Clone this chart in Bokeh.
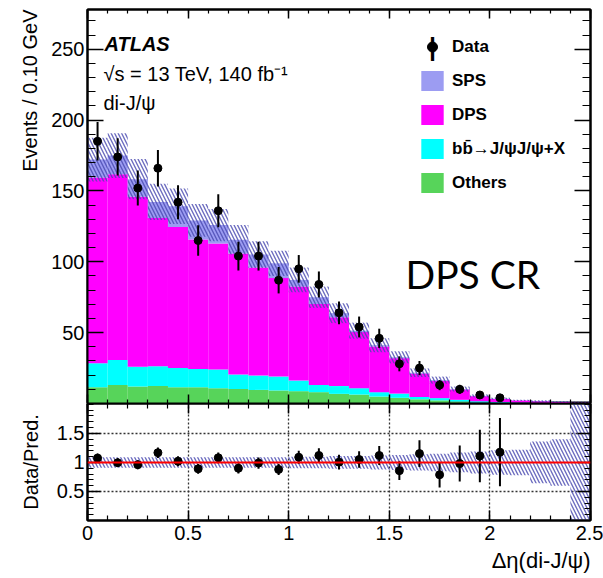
from bokeh.plotting import figure
from bokeh.models import (ColumnDataSource, Range1d, FixedTicker, LinearAxis, Label,
                          Legend, LegendItem, Title, Span, Grid)
from bokeh.layouts import column
from bokeh.embed import file_html
from bokeh.resources import INLINE

FONT = "Liberation Sans"

# ---------------- data ----------------
bin_low = [0.0, 0.1, 0.2, 0.3, 0.4, 0.5, 0.6, 0.7, 0.8, 0.9, 1.0, 1.1, 1.2,
           1.3, 1.4, 1.5, 1.6, 1.7, 1.8, 1.9, 2.0, 2.1, 2.2, 2.3, 2.4]
bin_high = [0.1, 0.2, 0.3, 0.4, 0.5, 0.6, 0.7, 0.8, 0.9, 1.0, 1.1, 1.2, 1.3,
            1.4, 1.5, 1.6, 1.7, 1.8, 1.9, 2.0, 2.1, 2.2, 2.3, 2.4, 2.5]
others = [11.5, 13.1, 12.0, 12.3, 11.5, 11.5, 10.8, 10.3, 9.6, 9.2, 8.7, 8.0, 6.8,
          6.3, 4.9, 4.0, 3.0, 2.2, 1.4, 0.6, 0.4, 0.3, 0.2, 0.1, 0.1]
bb = [16.9, 17.6, 14.0, 14.0, 13.6, 12.9, 13.2, 10.1, 10.1, 9.8, 7.5, 5.1, 5.5,
      4.5, 3.1, 3.0, 1.6, 1.6, 1.2, 1.0, 0.6, 0.4, 0.3, 0.2, 0.1]
dps = [131.0, 131.0, 119.8, 104.5, 99.5, 91.3, 88.9, 85.5, 76.3, 69.5, 66.3, 57.1, 48.5,
       39.6, 32.3, 25.0, 16.6, 12.3, 7.3, 3.6, 2.2, 1.4, 1.1, 0.8, 0.3]
sps = [12.7, 13.2, 12.5, 11.4, 14.6, 13.5, 13.0, 9.7, 9.1, 10.4, 4.7, 4.8, 2.9,
       1.0, 0.8, 0.6, 0.5, 0.4, 0.3, 0.2, 0.2, 0.1, 0.1, 0.1, 0.05]
rel_unc = [0.09, 0.09, 0.09, 0.09, 0.09, 0.09, 0.09, 0.09, 0.09, 0.09, 0.10, 0.10, 0.11,
           0.11, 0.12, 0.13, 0.14, 0.15, 0.17, 0.19, 0.21, 0.22, 0.36, 0.40, 1.5]
data_x = [0.05, 0.15, 0.25, 0.35, 0.45, 0.55, 0.65, 0.75, 0.85, 0.95, 1.05,
          1.15, 1.25, 1.35, 1.45, 1.55, 1.65, 1.75, 1.85, 1.95, 2.05]
data_counts = [185, 174, 152, 166, 142, 115, 136, 104, 104, 87, 95, 84, 64,
               54, 46, 28, 25, 13, 10, 6, 4]

x_ticks = [0, 0.5, 1, 1.5, 2, 2.5]
x_minor = [i / 10 for i in range(26)]
y_ticks_top = [50, 100, 150, 200, 250]
y_minor_top = [i * 10 for i in range(28)]
y_ticks_ratio = [0.5, 1, 1.5]
y_minor_ratio = [i / 10 for i in range(21)]

COL_SPS = "#9c9cf2"
COL_DPS = "#ff00ff"
COL_BB = "#00ffff"
COL_OTH = "#57d45a"
COL_HATCH = "#4848b0"

# ---------------- derived stacks ----------------
n = len(bin_low)
s1 = [others[i] for i in range(n)]
s2 = [s1[i] + bb[i] for i in range(n)]
s3 = [s2[i] + dps[i] for i in range(n)]
total = [s3[i] + sps[i] for i in range(n)]
band_lo = [max(0.0, total[i] * (1 - rel_unc[i])) for i in range(n)]
band_hi = [total[i] * (1 + rel_unc[i]) for i in range(n)]

src = ColumnDataSource(dict(left=bin_low, right=bin_high, zero=[0.0] * n,
                            s1=s1, s2=s2, s3=s3, total=total,
                            blo=band_lo, bhi=band_hi,
                            rlo=[1 - r for r in rel_unc], rhi=[1 + r for r in rel_unc]))

nd = len(data_counts)
err = [c ** 0.5 for c in data_counts]
ratio = [data_counts[i] / total[i] for i in range(nd)]
rerr = [err[i] / total[i] for i in range(nd)]
dsrc = ColumnDataSource(dict(x=data_x, y=data_counts,
                             ylo=[data_counts[i] - err[i] for i in range(nd)],
                             yhi=[data_counts[i] + err[i] for i in range(nd)],
                             r=ratio,
                             rlo=[ratio[i] - rerr[i] for i in range(nd)],
                             rhi=[ratio[i] + rerr[i] for i in range(nd)]))


def style_axis(ax, major_in, minor_in, labels=True):
    ax.axis_line_color = "black"
    ax.axis_line_width = 2
    ax.major_tick_in = major_in
    ax.major_tick_out = 0
    ax.minor_tick_in = minor_in
    ax.minor_tick_out = 0
    ax.major_tick_line_width = 1.5
    ax.minor_tick_line_width = 1.2
    ax.major_tick_line_color = "black"
    ax.minor_tick_line_color = "black"
    ax.major_label_text_font = FONT
    ax.major_label_text_font_size = "20px"
    ax.major_label_text_color = "black"
    ax.major_label_standoff = 3
    if not labels:
        ax.major_label_text_font_size = "1px"
        ax.major_label_text_color = None
        ax.major_label_standoff = 0


# ---------------- upper panel ----------------
p = figure(frame_width=503, frame_height=394, x_range=Range1d(0, 2.5), y_range=Range1d(0, 278),
           x_axis_location=None, y_axis_location=None, output_backend="svg",
           toolbar_location=None, min_border_left=87, min_border_right=13,
           min_border_top=9, min_border_bottom=0)
p.xgrid.visible = False
p.ygrid.visible = False
p.outline_line_color = "black"
p.outline_line_width = 2
p.background_fill_color = "white"
p.border_fill_color = "white"

xt = FixedTicker(ticks=x_ticks, minor_ticks=x_minor)
yt = FixedTicker(ticks=y_ticks_top, minor_ticks=y_minor_top)

ax_l = LinearAxis(ticker=yt)
style_axis(ax_l, 16, 8)
p.add_layout(ax_l, "left")
ax_r = LinearAxis(ticker=yt)
style_axis(ax_r, 16, 8, labels=False)
p.add_layout(ax_r, "right")
ax_b = LinearAxis(ticker=xt)
style_axis(ax_b, 9, 4, labels=False)
p.add_layout(ax_b, "below")
ax_t = LinearAxis(ticker=xt)
style_axis(ax_t, 9, 4, labels=False)
p.add_layout(ax_t, "above")

p.add_layout(Title(text="Events / 0.10 GeV", align="right", text_font=FONT,
                   text_font_size="20px", text_font_style="normal", standoff=16,
                   text_color="black"), "left")

r_oth = p.quad(left="left", right="right", bottom="zero", top="s1", source=src,
               fill_color=COL_OTH, line_color=None)
r_bb = p.quad(left="left", right="right", bottom="s1", top="s2", source=src,
              fill_color=COL_BB, line_color=None)
r_dps = p.quad(left="left", right="right", bottom="s2", top="s3", source=src,
               fill_color=COL_DPS, line_color=None)
r_sps = p.quad(left="left", right="right", bottom="s3", top="total", source=src,
               fill_color=COL_SPS, line_color=None)
p.quad(left="left", right="right", bottom="blo", top="bhi", source=src,
       fill_alpha=0, line_color=None, hatch_pattern="\\", hatch_color=COL_HATCH,
       hatch_scale=7, hatch_weight=1.4, hatch_alpha=0.8)

p.segment(x0="x", y0="ylo", x1="x", y1="yhi", source=dsrc, line_color="black", line_width=2)
r_data = p.scatter(x="x", y="y", source=dsrc, size=8, marker="circle",
                   fill_color="black", line_color="black")

legend = Legend(items=[LegendItem(label="Data", renderers=[r_data]),
                       LegendItem(label="SPS", renderers=[r_sps]),
                       LegendItem(label="DPS", renderers=[r_dps]),
                       LegendItem(label="b\u0062\u0304\u2192J/\u03c8J/\u03c8+X", renderers=[r_bb]),
                       LegendItem(label="Others", renderers=[r_oth])],
                location=(331, 208), orientation="vertical", glyph_width=28, glyph_height=25,
                label_height=25, spacing=9, padding=0, margin=0, label_standoff=6,
                border_line_alpha=0, background_fill_alpha=0,
                label_text_font=FONT, label_text_font_style="bold", label_text_font_size="17px",
                label_text_color="black")
p.add_layout(legend)

p.add_layout(Label(x=345, y=357, x_units="screen", y_units="screen", text="|",
                   text_font=FONT, text_font_size="25px", text_font_style="bold",
                   text_align="center", text_baseline="middle", text_color="black"))

p.add_layout(Label(x=17, y=360, x_units="screen", y_units="screen", text="ATLAS",
                   text_font=FONT, text_font_style="bold italic", text_font_size="20px",
                   text_baseline="alphabetic", text_color="black"))
p.add_layout(Label(x=16, y=330, x_units="screen", y_units="screen",
                   text="\u221as = 13 TeV, 140 fb\u207b\u00b9",
                   text_font=FONT, text_font_size="20px", text_baseline="alphabetic",
                   text_color="black"))
p.add_layout(Label(x=16, y=301, x_units="screen", y_units="screen", text="di-J/\u03c8",
                   text_font=FONT, text_font_size="20px", text_baseline="alphabetic",
                   text_color="black"))
p.add_layout(Label(x=318, y=130, x_units="screen", y_units="screen", text="DPS CR",
                   text_font="Lato", text_font_size="39px", text_baseline="alphabetic",
                   text_color="black"))

# ---------------- ratio panel ----------------
r = figure(frame_width=503, frame_height=117, x_range=p.x_range, y_range=Range1d(0, 2.015),
           x_axis_location=None, y_axis_location=None, output_backend="svg",
           toolbar_location=None, min_border_left=87, min_border_right=13,
           min_border_top=0, min_border_bottom=10)
r.xgrid.visible = False
r.ygrid.visible = False
r.outline_line_color = "black"
r.outline_line_width = 2
r.background_fill_color = "white"
r.border_fill_color = "white"

yrt = FixedTicker(ticks=y_ticks_ratio, minor_ticks=y_minor_ratio)
rax_l = LinearAxis(ticker=yrt, axis_label="Data/Pred.")
style_axis(rax_l, 13, 6)
rax_l.axis_label_text_font = FONT
rax_l.axis_label_text_font_size = "20px"
rax_l.axis_label_text_font_style = "normal"
rax_l.axis_label_text_color = "black"
rax_l.axis_label_standoff = 12
r.add_layout(rax_l, "left")
rax_r = LinearAxis(ticker=yrt)
style_axis(rax_r, 13, 6, labels=False)
r.add_layout(rax_r, "right")
rax_b = LinearAxis(ticker=xt)
style_axis(rax_b, 10, 5)
rax_b.major_label_standoff = 5
r.add_layout(rax_b, "below")
rax_t = LinearAxis(ticker=xt)
style_axis(rax_t, 10, 5, labels=False)
r.add_layout(rax_t, "above")
r.add_layout(Title(text="\u0394\u03b7(di-J/\u03c8)", align="right", text_font=FONT,
                   text_font_size="22px", text_font_style="normal", standoff=7,
                   text_color="black"), "below")

r.add_layout(Grid(dimension=0, ticker=FixedTicker(ticks=x_ticks[1:-1]), grid_line_color="#333333",
                  grid_line_dash="2 2", grid_line_width=1.3))
r.add_layout(Grid(dimension=1, ticker=FixedTicker(ticks=[0.5, 1.5]), grid_line_color="#333333",
                  grid_line_dash="2 2", grid_line_width=1.3))

r.quad(left="left", right="right", bottom="rlo", top="rhi", source=src,
       fill_alpha=0, line_color=None, hatch_pattern="\\", hatch_color=COL_HATCH,
       hatch_scale=7, hatch_weight=1.4, hatch_alpha=0.8)
r.add_layout(Span(location=1, dimension="width", line_color="red", line_width=2))
r.segment(x0="x", y0="rlo", x1="x", y1="rhi", source=dsrc, line_color="black", line_width=2)
r.scatter(x="x", y="r", source=dsrc, size=8, marker="circle", fill_color="black", line_color="black")

layout = column(p, r, spacing=0)
open("out.html", "w").write(file_html(layout, INLINE))
